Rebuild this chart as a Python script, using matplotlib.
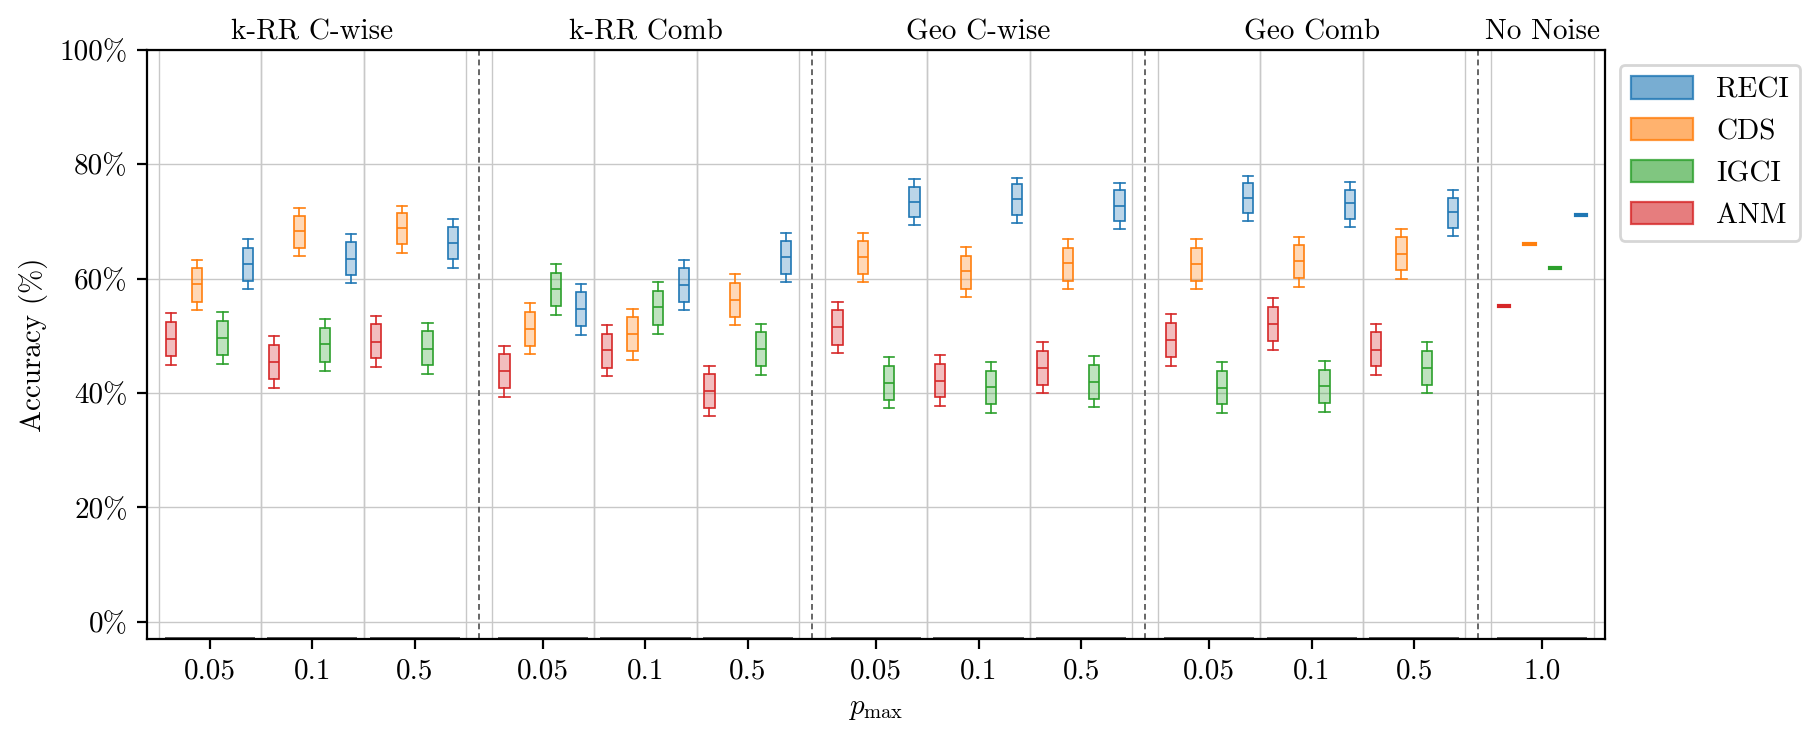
import numpy as np
import matplotlib
matplotlib.use('Agg')
import matplotlib.pyplot as plt
from matplotlib.patches import Patch
from matplotlib.ticker import PercentFormatter

plt.rcParams['font.family'] = 'serif'
plt.rcParams['font.serif'] = ['cmr10']
plt.rcParams['mathtext.fontset'] = 'cm'
plt.rcParams['axes.unicode_minus'] = False
plt.rcParams['axes.formatter.use_mathtext'] = True

sections = ['k-RR C-wise', 'k-RR Comb', 'Geo C-wise', 'Geo Comb']
p_labels = ['0.05', '0.1', '0.5']
methods = ['RECI', 'CDS', 'IGCI', 'ANM']
colors = {'RECI': '#1f77b4', 'CDS': '#ff7f0e', 'IGCI': '#2ca02c', 'ANM': '#d62728'}

# [whisker low, q1, median, q3, whisker high] for each noisy group, section by section
anm = [[44.9, 46.5, 49.5, 52.4, 54.0], [40.9, 42.5, 45.5, 48.4, 50.0], [44.6, 46.2, 49.0, 52.1, 53.5],
       [39.4, 40.9, 43.9, 46.9, 48.3], [43.0, 44.4, 47.6, 50.3, 51.9], [36.0, 37.4, 40.4, 43.4, 44.8],
       [47.0, 48.4, 51.6, 54.5, 55.9], [37.8, 39.4, 42.2, 45.1, 46.7], [40.1, 41.5, 44.4, 47.4, 49.0],
       [44.8, 46.3, 49.3, 52.3, 53.8], [47.6, 49.1, 52.1, 55.1, 56.6], [43.2, 44.8, 47.6, 50.7, 52.1]]
cds = [[54.5, 55.9, 59.1, 61.9, 63.3], [64.0, 65.3, 68.3, 70.9, 72.3], [64.5, 66.0, 68.8, 71.5, 72.8],
       [46.9, 48.3, 51.2, 54.2, 55.8], [45.8, 47.4, 50.3, 53.3, 54.7], [51.9, 53.3, 56.3, 59.2, 60.8],
       [59.4, 60.8, 63.8, 66.6, 68.0], [56.8, 58.2, 61.3, 64.0, 65.5], [58.2, 59.6, 62.7, 65.3, 66.9],
       [58.2, 59.6, 62.6, 65.3, 66.9], [58.5, 60.1, 63.1, 65.9, 67.3], [59.9, 61.5, 64.3, 67.3, 68.7]]
igci = [[45.1, 46.7, 49.7, 52.6, 54.2], [43.9, 45.5, 48.6, 51.4, 53.0], [43.4, 44.9, 47.7, 50.9, 52.3],
        [53.7, 55.2, 58.2, 61.0, 62.6], [50.3, 51.9, 55.1, 57.8, 59.4], [43.2, 44.8, 47.7, 50.7, 52.1],
        [37.4, 38.8, 41.8, 44.8, 46.3], [36.6, 38.1, 41.1, 43.9, 45.5], [37.6, 39.0, 42.0, 44.9, 46.5],
        [36.6, 38.1, 40.9, 43.9, 45.5], [36.7, 38.3, 41.3, 44.1, 45.6], [40.1, 41.5, 44.4, 47.4, 49.0]]
reci = [[58.2, 59.6, 62.6, 65.3, 66.9], [59.2, 60.6, 63.4, 66.4, 67.8], [61.9, 63.4, 66.2, 69.0, 70.4],
        [50.2, 51.7, 54.7, 57.7, 59.1], [54.5, 55.9, 58.9, 61.9, 63.3], [59.4, 60.8, 63.8, 66.6, 68.0],
        [69.4, 70.8, 73.5, 76.0, 77.4], [69.7, 71.1, 73.9, 76.5, 77.7], [68.7, 70.1, 72.8, 75.5, 76.7],
        [70.1, 71.5, 74.1, 76.7, 77.9], [69.0, 70.4, 73.2, 75.6, 76.9], [67.4, 68.8, 71.6, 74.2, 75.6]]
no_noise = {'RECI': 71.2, 'CDS': 66.0, 'IGCI': 61.8, 'ANM': 55.2}

stats = {'RECI': reci, 'CDS': cds, 'IGCI': igci, 'ANM': anm}
draw_order = ['ANM', 'CDS', 'IGCI', 'RECI']
offsets = [-0.375, -0.125, 0.125, 0.375]
gap = 0.25
bw = 0.1

fig = plt.figure(figsize=(9.1, 3.7), dpi=200)
ax = fig.add_axes([0.0808, 0.1365, 0.8011, 0.7959])

centers = []
for s in range(len(sections)):
    for j in range(3):
        centers.append(s * (3 + gap) + j)
nn_center = len(sections) * (3 + gap)

for k, m in enumerate(draw_order):
    c = colors[m]
    bxs = []
    for row in stats[m]:
        bxs.append({'whislo': row[0], 'q1': row[1], 'med': row[2], 'q3': row[3], 'whishi': row[4], 'fliers': []})
    pos = [x + offsets[k] for x in centers]
    ax.bxp(bxs, positions=pos, widths=bw, capwidths=bw, patch_artist=True, showfliers=False,
           boxprops=dict(facecolor=matplotlib.colors.to_rgba(c, 0.3), edgecolor=c, linewidth=0.6),
           medianprops=dict(color=c, linewidth=0.6),
           whiskerprops=dict(color=c, linewidth=0.6),
           capprops=dict(color=c, linewidth=0.6),
           manage_ticks=False, zorder=3)
    lc = ax.hlines(no_noise[m], nn_center + offsets[k] - bw / 2, nn_center + offsets[k] + bw / 2,
                   color=c, linewidth=1.5, zorder=3)
    lc.set_capstyle('projecting')

# dark segments along the bottom of every group
all_centers = centers + [nn_center]
ax.hlines([-2.8] * len(all_centers), [x - 0.44 for x in all_centers], [x + 0.44 for x in all_centers],
          color='#444444', linewidth=0.6, zorder=2)

# section separators
for s in range(len(sections)):
    ax.axvline(s * (3 + gap) + 2.5 + gap / 2, color='#666666', linestyle=(0, (3, 2)), linewidth=0.7, zorder=1)

# section titles
trans = matplotlib.transforms.blended_transform_factory(ax.transData, ax.transAxes)
for s, name in enumerate(sections):
    ax.text(s * (3 + gap) + 1, 1.018, name, transform=trans, ha='center', va='baseline', fontsize=10.5)
ax.text(nn_center, 1.018, 'No Noise', transform=trans, ha='center', va='baseline', fontsize=10.5)

ax.set_xticks(all_centers)
ax.set_xticklabels(p_labels * len(sections) + ['1.0'], fontsize=10.5)
ax.set_xticks([x - 0.5 for x in all_centers] + [x + 0.5 for x in all_centers], minor=True)
ax.tick_params(axis='x', which='minor', length=0)
ax.grid(axis='x', which='minor', color='#c8c8c8', linewidth=0.5)
ax.grid(axis='y', which='major', color='#c8c8c8', linewidth=0.5)
ax.set_axisbelow(True)

ax.set_ylim(-3, 100)
ax.set_xlim(-0.612, nn_center + 0.612)
ax.set_yticks([0, 20, 40, 60, 80, 100])
ax.yaxis.set_major_formatter(PercentFormatter(xmax=100, decimals=0))
ax.tick_params(axis='y', labelsize=10.5)
ax.set_ylabel('Accuracy (%)', fontsize=10.5)
ax.set_xlabel(r'$p_{\max}$', fontsize=10.5)

handles = [Patch(facecolor=matplotlib.colors.to_rgba(colors[m], 0.6), edgecolor=matplotlib.colors.to_rgba(colors[m], 0.8),
                 linewidth=0.8) for m in methods]
ax.legend(handles, methods, loc='upper left', bbox_to_anchor=(1.0, 1.0), fontsize=10.5,
          handlelength=2.1, handleheight=0.8, fancybox=True)

plt.savefig('out.png', dpi=200)
